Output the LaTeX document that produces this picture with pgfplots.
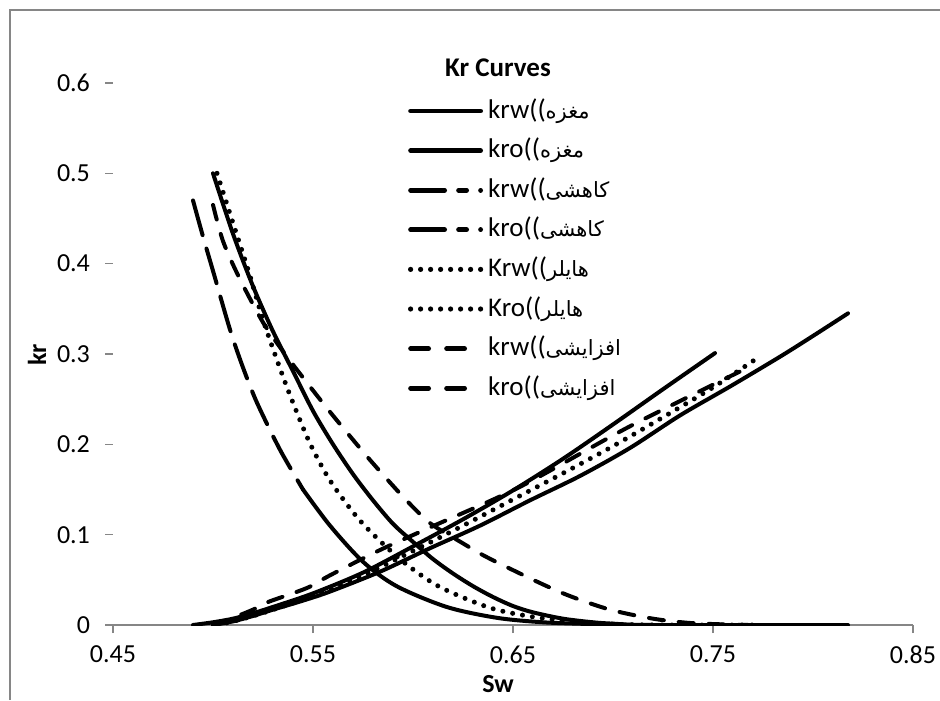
\documentclass[border=0pt]{standalone}
\usepackage{fontspec}
\setmainfont{Carlito}
\newfontfamily\arabicfont[Script=Arabic]{DejaVu Sans}
\TeXXeTstate=1
\usepackage{pgfplots}
\pgfplotsset{compat=1.18}
\definecolor{axgray}{RGB}{134,134,134}
\newcommand{\fa}[1]{{\arabicfont\fontsize{10.5}{12}\selectfont\beginR #1\endR}}

\pgfplotstableread{
x y
0.500 0
0.510 0.004
0.520 0.010
0.530 0.017
0.545 0.027
0.5585 0.037
0.5835 0.059
0.6085 0.085
0.6335 0.110
0.6585 0.138
0.6835 0.165
0.7085 0.196
0.7335 0.232
0.7585 0.264
0.7835 0.297
0.8000 0.320
0.8175 0.345
}\krwM
\pgfplotstableread{
x y
0.500 0.500
0.510 0.433
0.520 0.375
0.530 0.325
0.540 0.281
0.550 0.237
0.560 0.200
0.570 0.167
0.580 0.138
0.590 0.112
0.600 0.092
0.610 0.073
0.620 0.057
0.630 0.043
0.640 0.031
0.650 0.021
0.660 0.014
0.675 0.007
0.690 0.003
0.700 0.0015
0.720 0
0.8175 0
}\kroM
\pgfplotstableread{
x y
0.490 0
0.500 0.003
0.510 0.007
0.520 0.013
0.530 0.020
0.550 0.035
0.575 0.058
0.600 0.087
0.625 0.117
0.650 0.149
0.675 0.184
0.700 0.222
0.725 0.261
0.751 0.301
}\krwK
\pgfplotstableread{
x y
0.490 0.470
0.495 0.430
0.500 0.392
0.5085 0.327
0.515 0.285
0.522 0.246
0.5335 0.194
0.545 0.150
}\kroKa
\pgfplotstableread{
x y
0.545 0.150
0.5585 0.110
0.575 0.070
0.5918 0.043
0.6168 0.020
0.6418 0.008
0.665 0.003
0.690 0.001
0.710 0
0.751 0
}\kroKb
\pgfplotstableread{
x y
0.502 0
0.510 0.004
0.520 0.010
0.530 0.017
0.550 0.032
0.575 0.055
0.600 0.082
0.625 0.110
0.650 0.139
0.675 0.168
0.700 0.198
0.725 0.230
0.750 0.263
0.7725 0.296
}\krwH
\pgfplotstableread{
x y
0.502 0.500
0.510 0.445
0.518 0.390
0.525 0.338
0.5335 0.284
0.540 0.246
0.5485 0.201
0.5585 0.160
0.5718 0.120
0.5835 0.093
0.5968 0.067
0.6135 0.042
0.6385 0.019
0.660 0.009
0.680 0.004
0.700 0.001
0.720 0
0.7725 0
}\kroH
\pgfplotstableread{
x y
0.500 0
0.510 0.008
0.520 0.017
0.527 0.025
0.547 0.041
0.5585 0.055
0.5835 0.083
0.6085 0.108
0.6535 0.153
0.7085 0.220
0.7675 0.285
}\krwA
\pgfplotstableread{
x y
0.500 0.465
0.505 0.425
0.513 0.385
0.525 0.335
0.536 0.300
0.546 0.271
0.557 0.240
0.567 0.213
0.578 0.184
0.588 0.159
0.598 0.135
0.609 0.112
0.6245 0.091
0.637 0.075
0.662 0.048
0.6785 0.032
0.6985 0.017
0.720 0.007
0.740 0.002
0.7675 0
}\kroA

\pgfplotsset{
  solidc/.style={black, line width=2pt, line join=round, line cap=round},
  lddc/.style={black, line width=2.4pt, line cap=round, dash pattern=on 17pt off 7pt on 4pt off 7pt},
  ldc/.style={black, line width=2pt, line cap=round, dash pattern=on 18pt off 7pt},
  dotc/.style={black, line width=2.5pt, line cap=round, dash pattern=on 0pt off 5pt},
  dashc/.style={black, line width=2pt, line cap=round, dash pattern=on 7.5pt off 7.5pt},
  legsolid/.style={black, line width=2.4pt, line cap=round},
  legdot/.style={black, line width=2.6pt, line cap=round, dash pattern=on 0pt off 5pt},
  legdash/.style={black, line width=2.4pt, line cap=round, dash pattern=on 9pt off 9pt},
}

\begin{document}
\begin{tikzpicture}
\useasboundingbox (0,0) rectangle (470pt,350pt);
\draw[axgray, line width=1.2pt] (5pt,0) -- (5pt,345pt) -- (470pt,345pt);
\begin{axis}[
  at={(56.5pt,37.5pt)}, anchor=south west,
  scale only axis, width=400pt, height=271pt,
  xmin=0.45, xmax=0.85, ymin=0, ymax=0.6,
  axis x line*=bottom, axis y line*=left,
  x axis line style={axgray, line width=0.8pt, -},
  y axis line style={draw=none, -},
  xtick={0.45,0.55,0.65,0.75,0.85},
  xticklabels={0.45,0.55,0.65,0.75,0.85},
  ytick={0,0.1,0.2,0.3,0.4,0.5,0.6},
  yticklabels={0,0.1,0.2,0.3,0.4,0.5,0.6},
  tick style={axgray, line width=0.6pt},
  tick align=outside,
  major tick length=4pt,
  ticklabel style={font=\fontsize{13}{15}\selectfont, text=black},
  xticklabel style={yshift=-3pt},
  yticklabel style={xshift=-4pt},
  legend style={at={(axis description cs:0.36875,0.9723)}, anchor=north west,
    draw=none, fill=none, inner sep=0pt, outer sep=0pt,
    row sep=6.8pt, column sep=2.5pt,
    nodes={inner sep=0pt, text height=10pt, text depth=3pt, font=\fontsize{13.5}{15}\selectfont}},
  legend cell align=left,
  legend image code/.code={\draw[#1] (0pt,0pt) -- (35pt,0pt);},
]
\addplot[solidc, smooth, tension=0.5, forget plot] table {\krwM};
\addplot[solidc, smooth, tension=0.5, forget plot] table {\kroM};
\addplot[solidc, smooth, tension=0.5, forget plot] table {\krwK};
\addplot[ldc, smooth, tension=0.5, forget plot] table {\kroKa};
\addplot[solidc, smooth, tension=0.5, forget plot] table {\kroKb};
\addplot[dotc, smooth, tension=0.5, forget plot] table {\krwH};
\addplot[dotc, smooth, tension=0.5, forget plot] table {\kroH};
\addplot[dashc, smooth, tension=0.5, forget plot] table {\krwA};
\addplot[dashc, smooth, tension=0.5, forget plot] table {\kroA};

\addlegendimage{legsolid}\addlegendentry{krw((\fa{مغزه}}
\addlegendimage{legsolid}\addlegendentry{kro((\fa{مغزه}}
\addlegendimage{lddc}\addlegendentry{krw((\fa{کاهشی}}
\addlegendimage{lddc}\addlegendentry{kro((\fa{کاهشی}}
\addlegendimage{legdot}\addlegendentry{Krw((\fa{هایلر}}
\addlegendimage{legdot}\addlegendentry{Kro((\fa{هایلر}}
\addlegendimage{legdash}\addlegendentry{krw((\fa{افزایشی}}
\addlegendimage{legdash}\addlegendentry{kro((\fa{افزایشی}}
\end{axis}
\node[font=\bfseries\fontsize{13.5}{16}\selectfont] at (249pt,316pt) {Kr Curves};
\node[font=\bfseries\fontsize{13}{15}\selectfont, rotate=90] at (18.5pt,172.5pt) {kr};
\node[font=\bfseries\fontsize{13}{15}\selectfont] at (249pt,8pt) {Sw};
\end{tikzpicture}
\end{document}
